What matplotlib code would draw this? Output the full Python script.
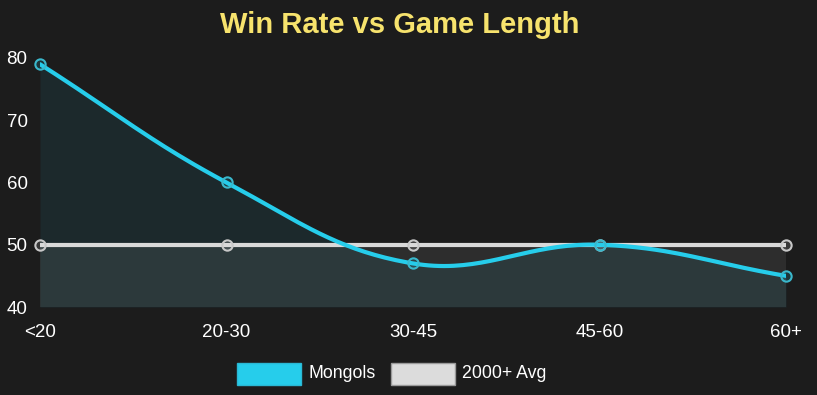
import numpy as np
import matplotlib
matplotlib.use("Agg")
import matplotlib.pyplot as plt
from matplotlib.patches import Rectangle

categories = ["<20", "20-30", "30-45", "45-60", "60+"]
mongols = [79, 60, 47, 50, 45]
avg2000 = [50, 50, 50, 50, 50]
yticks = [40, 50, 60, 70, 80]
title = "Win Rate vs Game Length"
series_names = ["Mongols", "2000+ Avg"]

BG = "#1c1c1c"
CYAN = "#26cdeb"
GRAY = "#d9d9d9"
FONT = "Liberation Sans"

W, H = 817, 395
fig = plt.figure(figsize=(W / 100, H / 100), dpi=100, facecolor=BG)
ax = fig.add_axes([40 / W, 88 / H, 746 / W, 249 / H])
ax.set_facecolor(BG)
ax.set_xlim(0, len(categories) - 1)
ax.set_ylim(40, 80)
for s in ax.spines.values():
    s.set_visible(False)
ax.set_xticks(range(len(categories)))
ax.set_xticklabels(categories)
ax.set_yticks(yticks)
ax.tick_params(length=0, colors="white", labelsize=13.5)
ax.tick_params(axis="x", pad=12)
ax.tick_params(axis="y", pad=9)
for lab in ax.get_xticklabels() + ax.get_yticklabels():
    lab.set_fontfamily(FONT)
ax.grid(False)


def spline_points(xs, ys, tension=0.4, n=40):
    # Chart.js-like bezier spline computed in pixel space
    fig.canvas.draw()
    pts = ax.transData.transform(np.column_stack([xs, ys]))
    m = len(pts)
    cps = []
    for i in range(m):
        p1 = pts[i]
        p0 = pts[i - 1] if i > 0 else p1
        p2 = pts[i + 1] if i < m - 1 else p1
        d01 = np.hypot(*(p1 - p0))
        d12 = np.hypot(*(p2 - p1))
        tot = d01 + d12
        s01 = d01 / tot if tot else 0
        s12 = d12 / tot if tot else 0
        cprev = p1 - tension * s01 * (p2 - p0)
        cnext = p1 + tension * s12 * (p2 - p0)
        cps.append((cprev, cnext))
    out = [pts[0]]
    t = np.linspace(0, 1, n)[1:, None]
    for i in range(m - 1):
        a = pts[i]
        b = cps[i][1]
        c = cps[i + 1][0]
        d = pts[i + 1]
        seg = (1 - t) ** 3 * a + 3 * (1 - t) ** 2 * t * b + 3 * (1 - t) * t ** 2 * c + t ** 3 * d
        out.extend(seg)
    out = np.array(out)
    return ax.transData.inverted().transform(out)


xs = np.arange(len(categories))

# average series
avg_curve = spline_points(xs, avg2000)
ax.fill_between(avg_curve[:, 0], 40, avg_curve[:, 1], color=GRAY, alpha=0.09, lw=0, zorder=1)
ax.plot(avg_curve[:, 0], avg_curve[:, 1], color=GRAY, lw=3, zorder=3, solid_capstyle="butt")
ax.scatter(xs, avg2000, s=55, facecolor=(0.85, 0.85, 0.85, 0.15), edgecolor="#c8c8c8", lw=1.5, zorder=4, clip_on=False)

# mongols series
m_curve = spline_points(xs, mongols)
ax.fill_between(m_curve[:, 0], 40, m_curve[:, 1], color=CYAN, alpha=0.08, lw=0, zorder=2)
ax.plot(m_curve[:, 0], m_curve[:, 1], color=CYAN, lw=3, zorder=5, solid_capstyle="round")
ax.scatter(xs, mongols, s=55, facecolor=(0.15, 0.8, 0.92, 0.15), edgecolor="#3ab8cc", lw=1.5, zorder=6, clip_on=False)

fig.text(400 / W, 1 - 25 / H, title, color="#f7e36d", fontsize=21, fontweight="bold",
         fontfamily=FONT, ha="center", va="center")

# legend
items = [(series_names[0], CYAN, "#2ab8d4", 237), (series_names[1], "#dcdcdc", "#9a9a9a", 391)]
for name, fc, ec, x0 in items:
    fig.patches.append(Rectangle((x0 / W, 1 - 385 / H), 64 / W, 22 / H, transform=fig.transFigure,
                                 facecolor=fc, edgecolor=ec, lw=1))
    fig.text((x0 + 71) / W, 1 - 373.5 / H, name, color="white", fontsize=12.8, fontfamily=FONT,
             ha="left", va="center")

fig.savefig("out.png", dpi=100, facecolor=BG)
